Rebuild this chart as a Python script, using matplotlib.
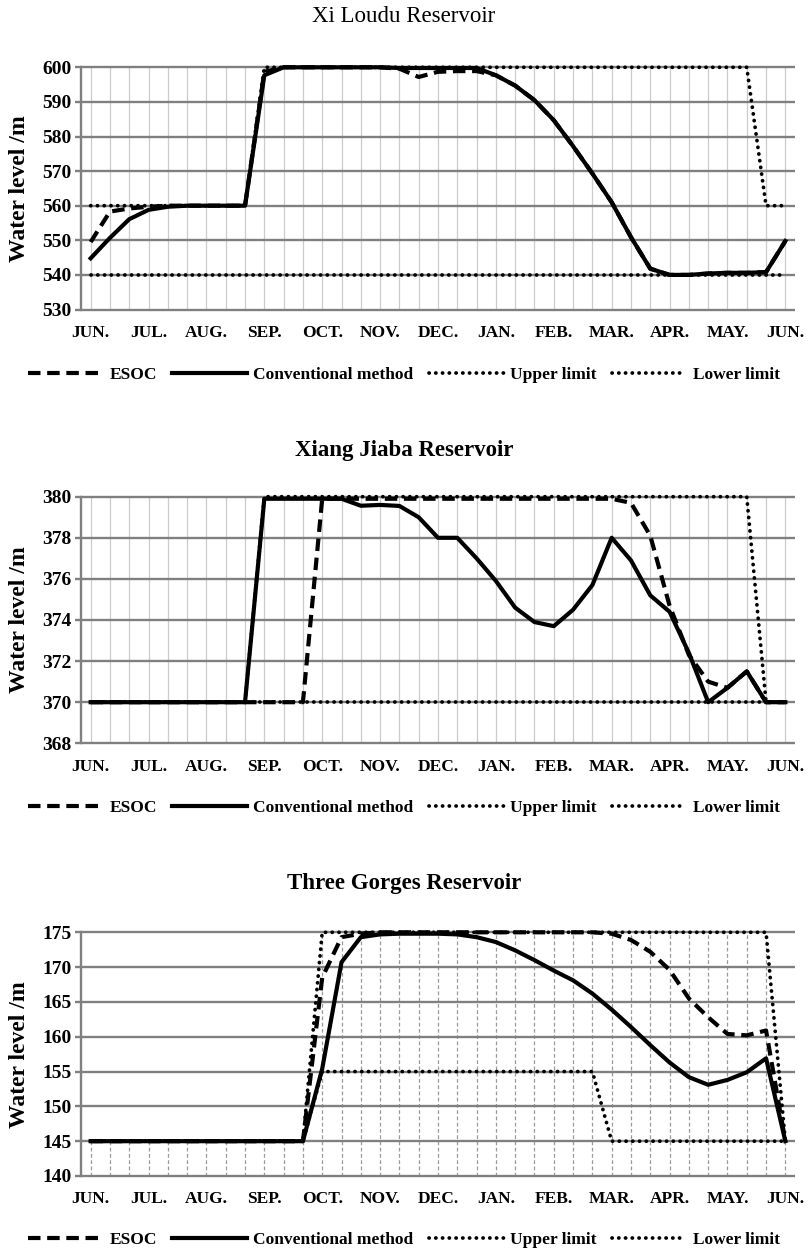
import matplotlib
matplotlib.use("Agg")
import matplotlib.pyplot as plt
import numpy as np

plt.rcParams['font.family'] = ['Liberation Serif', 'DejaVu Serif']

# ten-day periods from June to the next June (37 points)
months = ['JUN.', 'JUL.', 'AUG.', 'SEP.', 'OCT.', 'NOV.', 'DEC.',
          'JAN.', 'FEB.', 'MAR.', 'APR.', 'MAY.', 'JUN.']
period = np.arange(37)

# Xi Loudu
xld_esoc = [549.5, 558.3, 559.2, 559.7, 560, 560, 560, 560, 560, 598.7,
            600, 600, 600, 600, 600, 600, 599.6, 597.2, 598.7, 598.9,
            598.9, 597.7, 594.7, 590.5, 584.7, 577.2, 569.3, 561.0, 550.9, 541.8,
            540.0, 540.0, 540.4, 540.6, 540.6, 540.8, 549.8]
xld_conv = [544.8, 550.7, 556.1, 558.8, 559.7, 560, 560, 560, 560, 597.7,
            600, 600, 600, 600, 600, 600, 599.8, 599.8, 599.8, 599.8,
            599.8, 597.7, 594.7, 590.5, 584.7, 577.2, 569.3, 561.0, 550.9, 541.8,
            540.0, 540.0, 540.4, 540.6, 540.6, 540.8, 549.8]
xld_upper = [560, 560, 560, 560, 560, 560, 560, 560, 560, 600,
             600, 600, 600, 600, 600, 600, 600, 600, 600, 600,
             600, 600, 600, 600, 600, 600, 600, 600, 600, 600,
             600, 600, 600, 600, 600, 560, 560]
xld_lower = [540, 540, 540, 540, 540, 540, 540, 540, 540, 540,
             540, 540, 540, 540, 540, 540, 540, 540, 540, 540,
             540, 540, 540, 540, 540, 540, 540, 540, 540, 540,
             540, 540, 540, 540, 540, 540, 540]

# Xiang Jiaba
xjb_esoc = [370, 370, 370, 370, 370, 370, 370, 370, 370, 370,
            370, 370, 379.9, 379.9, 379.9, 379.9, 379.9, 379.9, 379.9, 379.9,
            379.9, 379.9, 379.9, 379.9, 379.9, 379.9, 379.9, 379.9, 379.7, 378.1,
            374.7, 372.3, 371.0, 370.7, 371.5, 370.0, 370.0]
xjb_conv = [370, 370, 370, 370, 370, 370, 370, 370, 370, 379.9,
            379.9, 379.9, 379.9, 379.9, 379.56, 379.6, 379.55, 379.0, 378.0, 378.0,
            377.0, 375.9, 374.6, 373.9, 373.7, 374.5, 375.7, 378.0, 376.9, 375.2,
            374.4, 372.4, 370.0, 370.7, 371.5, 370.0, 370.0]
xjb_upper = [370, 370, 370, 370, 370, 370, 370, 370, 370, 380,
             380, 380, 380, 380, 380, 380, 380, 380, 380, 380,
             380, 380, 380, 380, 380, 380, 380, 380, 380, 380,
             380, 380, 380, 380, 380, 370, 370]
xjb_lower = [370, 370, 370, 370, 370, 370, 370, 370, 370, 370,
             370, 370, 370, 370, 370, 370, 370, 370, 370, 370,
             370, 370, 370, 370, 370, 370, 370, 370, 370, 370,
             370, 370, 370, 370, 370, 370, 370]

# Three Gorges
tg_esoc = [145, 145, 145, 145, 145, 145, 145, 145, 145, 145,
           145, 145, 168.5, 174.3, 174.8, 175, 175, 175, 175, 175,
           175, 175, 175, 175, 175, 175, 175, 174.8, 173.9, 172.2,
           169.6, 165.5, 162.8, 160.4, 160.2, 160.9, 145]
tg_conv = [145, 145, 145, 145, 145, 145, 145, 145, 145, 145,
           145, 145, 155.4, 170.7, 174.3, 174.7, 174.8, 174.8, 174.8, 174.7,
           174.3, 173.6, 172.4, 171.0, 169.5, 168.1, 166.2, 163.9, 161.4, 158.8,
           156.3, 154.2, 153.1, 153.8, 154.9, 156.9, 145]
tg_upper = [145, 145, 145, 145, 145, 145, 145, 145, 145, 145,
            145, 145, 175, 175, 175, 175, 175, 175, 175, 175,
            175, 175, 175, 175, 175, 175, 175, 175, 175, 175,
            175, 175, 175, 175, 175, 175, 145]
tg_lower = [145, 145, 145, 145, 145, 145, 145, 145, 145, 145,
            145, 145, 155, 155, 155, 155, 155, 155, 155, 155,
            155, 155, 155, 155, 155, 155, 155, 145, 145, 145,
            145, 145, 145, 145, 145, 145, 145]

W, H = 808, 1253
fig = plt.figure(figsize=(W / 100, H / 100), dpi=100)

grid_col = '#808080'
dot_style = (0, (0.05, 1.75))


def draw_panel(top_px, bottom_px, title, title_y, title_bold, series, yticks, legend_y, drop_lines=False):
    ax = fig.add_axes([81 / W, 1 - bottom_px / H, 714 / W, (bottom_px - top_px) / H])
    esoc, conv, upper, lower = series
    ymin, ymax = yticks[0], yticks[-1]
    ax.set_xlim(-0.5, 36.5)
    ax.set_ylim(ymin, ymax)

    # vertical lines at every period
    if drop_lines:
        tops = np.maximum.reduce([np.array(esoc), np.array(conv), np.array(upper)])
        ax.vlines(period, ymin, tops, colors='#9a9a9a', lw=0.9, linestyles=(0, (3, 2)), zorder=1)
    else:
        ax.vlines(period, ymin, ymax, colors='#cccccc', lw=0.9, zorder=1)
    ax.hlines(yticks, -0.5, 36.5, colors=grid_col, lw=1.7, zorder=1.5, clip_on=False)

    ax.plot(period, esoc, color='black', lw=3, linestyle=(0, (3, 1.6)), label='ESOC', zorder=3, clip_on=False)
    ax.plot(period, conv, color='black', lw=3, label='Conventional method', zorder=4, clip_on=False)
    ax.plot(period, upper, color='black', lw=2.7, linestyle=dot_style, dash_capstyle='round',
            label='Upper limit', zorder=5, clip_on=False)
    ax.plot(period, lower, color='black', lw=2.7, linestyle=dot_style, dash_capstyle='round',
            label='Lower limit', zorder=5, clip_on=False)

    for s in ['top', 'right', 'bottom']:
        ax.spines[s].set_visible(False)
    ax.spines['left'].set_color(grid_col)
    ax.spines['left'].set_linewidth(1.7)

    ax.set_yticks(yticks)
    ax.set_yticklabels([str(v) for v in yticks], fontsize=14, fontweight='bold')
    ax.set_xticks(period[::3])
    ax.set_xticklabels(months, fontsize=12.5, fontweight='bold')
    ax.tick_params(axis='y', length=4, width=1.7, color=grid_col, pad=3)
    ax.tick_params(axis='x', length=0, pad=11)

    ax.set_ylabel('Water level /m', fontsize=17, fontweight='bold')
    ax.yaxis.set_label_coords(-0.071, 0.5)

    fig.text(0.5, 1 - title_y / H, title, ha='center', va='center', fontsize=16.5,
             fontweight='bold' if title_bold else 'normal')

    ax.legend(loc='center', bbox_to_anchor=(0.5, 1 - legend_y / H), bbox_transform=fig.transFigure,
              ncol=4, frameon=False, handlelength=4.3, handletextpad=0.35, columnspacing=0.9,
              prop={'size': 12.5, 'weight': 'bold'})
    return ax


draw_panel(67.3, 309.5, 'Xi Loudu Reservoir', 17, False,
           (xld_esoc, xld_conv, xld_upper, xld_lower), list(range(530, 601, 10)), 375)
draw_panel(496.7, 743.3, 'Xiang Jiaba Reservoir', 450, True,
           (xjb_esoc, xjb_conv, xjb_upper, xjb_lower), list(range(368, 381, 2)), 808)
draw_panel(932.3, 1176, 'Three Gorges Reservoir', 883, True,
           (tg_esoc, tg_conv, tg_upper, tg_lower), list(range(140, 176, 5)), 1240, drop_lines=True)

fig.savefig('out.png', dpi=100)
